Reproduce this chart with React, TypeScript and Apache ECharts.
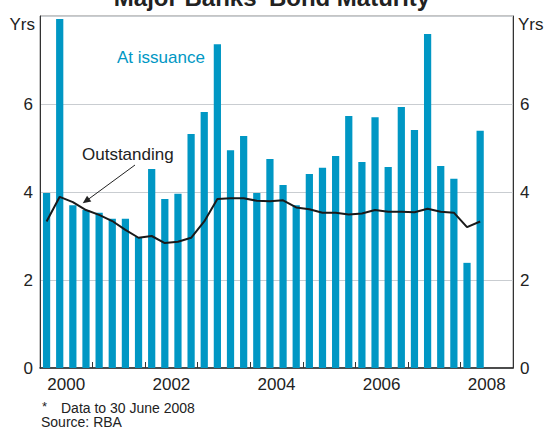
import React, { useEffect, useRef } from 'react';
import * as echarts from 'echarts';

const quarters: string[] = [
  '2000Q1', '2000Q2', '2000Q3', '2000Q4', '2001Q1', '2001Q2', '2001Q3', '2001Q4',
  '2002Q1', '2002Q2', '2002Q3', '2002Q4', '2003Q1', '2003Q2', '2003Q3', '2003Q4',
  '2004Q1', '2004Q2', '2004Q3', '2004Q4', '2005Q1', '2005Q2', '2005Q3', '2005Q4',
  '2006Q1', '2006Q2', '2006Q3', '2006Q4', '2007Q1', '2007Q2', '2007Q3', '2007Q4',
  '2008Q1', '2008Q2', '2008Q3', '2008Q4',
];

const atIssuance: number[] = [
  3.98, 7.93, 3.70, 3.59, 3.53, 3.39, 3.39, 2.98, 4.52, 3.84, 3.96, 5.32, 5.82, 7.36, 4.95, 5.27,
  3.98, 4.75, 4.16, 3.70, 4.41, 4.55, 4.82, 5.73, 4.68, 5.70, 4.57, 5.93, 5.41, 7.59, 4.59, 4.30,
  2.39, 5.39,
];

const outstanding: number[] = [
  3.33, 3.89, 3.77, 3.59, 3.48, 3.34, 3.14, 2.96, 3.00, 2.84, 2.87, 2.96, 3.33, 3.84, 3.86, 3.86,
  3.80, 3.79, 3.81, 3.65, 3.61, 3.53, 3.53, 3.49, 3.51, 3.59, 3.55, 3.55, 3.54, 3.62, 3.55, 3.53,
  3.20, 3.33,
];

// year labels placed at the middle of every second year (value axis in quarter units)
const yearLabels: string[] = ['2000', '2002', '2004', '2006', '2008'];
const yearLabelPos: number[] = [2, 10, 18, 26, 34];

const FONT = 'Arial, "Liberation Sans", Helvetica, sans-serif';
const BLUE = '#0097c4';
const TEXT = '#222222';

export default function App() {
  const ref = useRef<HTMLDivElement>(null);

  useEffect(() => {
    document.body.style.margin = '0';
    if (!ref.current) return;
    const chart = echarts.init(ref.current, undefined, { renderer: 'svg' });

    const option: any = {
      animation: false,
      backgroundColor: '#ffffff',
      textStyle: { fontFamily: FONT },
      grid: {
        left: 40,
        right: 33,
        top: 16,
        bottom: 60,
        show: true,
        borderColor: '#8a8a8a',
        borderWidth: 1,
        containLabel: false,
      },
      xAxis: [
        {
          type: 'category',
          data: quarters,
          boundaryGap: true,
          position: 'bottom',
          axisLine: { show: true, lineStyle: { color: '#222', width: 1.5 } },
          axisTick: {
            show: true,
            inside: true,
            length: 6,
            interval: 3,
            alignWithLabel: false,
            lineStyle: { color: '#333', width: 1 },
          },
          axisLabel: { show: false },
          splitLine: { show: false },
        },
        {
          type: 'value',
          min: 0,
          max: 36,
          interval: 2,
          position: 'bottom',
          axisLine: { show: false },
          axisTick: { show: false },
          splitLine: { show: false },
          axisLabel: {
            show: true,
            color: TEXT,
            fontSize: 17,
            fontFamily: FONT,
            margin: 8,
            showMinLabel: true,
            showMaxLabel: true,
            formatter: (v: number) => {
              const i = yearLabelPos.indexOf(v);
              return i >= 0 ? yearLabels[i] : '';
            },
          },
        },
      ],
      yAxis: [
        {
          type: 'value',
          position: 'left',
          min: 0,
          max: 8,
          interval: 2,
          axisLine: { show: true, lineStyle: { color: '#333', width: 1 } },
          axisTick: { show: false },
          axisLabel: {
            color: TEXT,
            fontSize: 17,
            fontFamily: FONT,
            margin: 7,
            formatter: (v: number) => (v === 8 ? '' : String(v)),
          },
          splitLine: { show: true, lineStyle: { color: '#c9cdd1', width: 1.2 } },
        },
        {
          type: 'value',
          position: 'right',
          min: 0,
          max: 8,
          interval: 2,
          axisLine: { show: true, lineStyle: { color: '#333', width: 1 } },
          axisTick: { show: false },
          axisLabel: {
            color: TEXT,
            fontSize: 17,
            fontFamily: FONT,
            margin: 7,
            formatter: (v: number) => (v === 8 ? '' : String(v)),
          },
          splitLine: { show: false },
        },
      ],
      series: [
        {
          name: 'At issuance',
          type: 'bar',
          xAxisIndex: 0,
          yAxisIndex: 0,
          data: atIssuance,
          barWidth: '55%',
          itemStyle: { color: BLUE },
          z: 2,
        },
        {
          name: 'Outstanding',
          type: 'line',
          xAxisIndex: 0,
          yAxisIndex: 0,
          data: outstanding,
          symbol: 'none',
          lineStyle: { color: '#1a1a1a', width: 2 },
          z: 3,
        },
      ],
      graphic: [
        {
          type: 'text',
          x: 272,
          y: -2.5,
          style: {
            text: "Major Banks' Bond Maturity",
            font: `bold 24px ${FONT}`,
            fill: TEXT,
            textAlign: 'center',
            textVerticalAlign: 'middle',
          },
        },
        {
          type: 'text',
          x: 35,
          y: 24,
          style: {
            text: 'Yrs',
            font: `17px ${FONT}`,
            fill: TEXT,
            textAlign: 'right',
            textVerticalAlign: 'middle',
          },
        },
        {
          type: 'text',
          x: 518,
          y: 24,
          style: {
            text: 'Yrs',
            font: `17px ${FONT}`,
            fill: TEXT,
            textAlign: 'left',
            textVerticalAlign: 'middle',
          },
        },
        {
          type: 'text',
          x: 117,
          y: 57,
          z: 10,
          style: {
            text: 'At issuance',
            font: `17px ${FONT}`,
            fill: BLUE,
            textAlign: 'left',
            textVerticalAlign: 'middle',
          },
        },
        {
          type: 'text',
          x: 82,
          y: 154,
          z: 10,
          style: {
            text: 'Outstanding',
            font: `17px ${FONT}`,
            fill: TEXT,
            textAlign: 'left',
            textVerticalAlign: 'middle',
          },
        },
        {
          type: 'line',
          z: 10,
          shape: { x1: 135, y1: 165, x2: 88, y2: 199.5 },
          style: { stroke: '#222', lineWidth: 1 },
        },
        {
          type: 'polygon',
          z: 10,
          shape: { points: [[82.7, 203.3], [91.3, 201.4], [87.1, 195.8]] },
          style: { fill: '#222' },
        },
        {
          type: 'text',
          x: 42,
          y: 406,
          style: {
            text: '*',
            font: `13px ${FONT}`,
            fill: TEXT,
            textAlign: 'left',
            textVerticalAlign: 'middle',
          },
        },
        {
          type: 'text',
          x: 61,
          y: 407.5,
          style: {
            text: 'Data to 30 June 2008',
            font: `14px ${FONT}`,
            fill: TEXT,
            textAlign: 'left',
            textVerticalAlign: 'middle',
          },
        },
        {
          type: 'text',
          x: 41,
          y: 421.5,
          style: {
            text: 'Source: RBA',
            font: `14px ${FONT}`,
            fill: TEXT,
            textAlign: 'left',
            textVerticalAlign: 'middle',
          },
        },
      ],
    };

    chart.setOption(option);
    return () => {
      chart.dispose();
    };
  }, []);

  return (
    <div
      ref={ref}
      style={{ position: 'fixed', left: 0, top: 0, width: 546, height: 428 }}
    />
  );
}
